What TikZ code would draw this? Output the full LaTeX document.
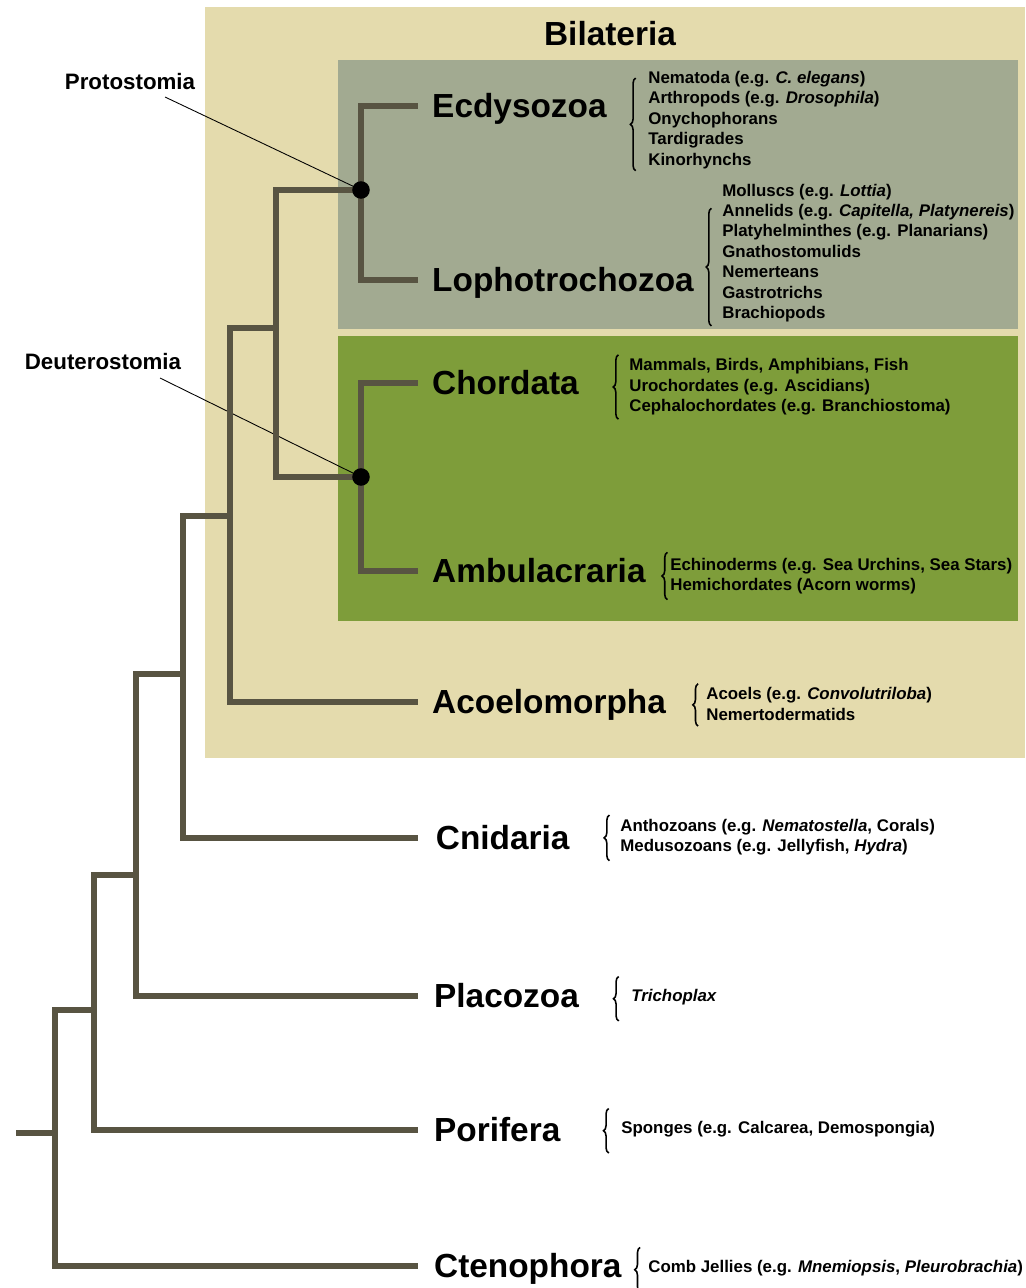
\documentclass[tikz,border=0pt]{standalone}
\usepackage{fontspec}
\setmainfont{Liberation Sans}
\usetikzlibrary{decorations.pathreplacing}
\definecolor{bilcol}{RGB}{228,219,173}
\definecolor{procol}{RGB}{162,170,145}
\definecolor{deucol}{RGB}{126,157,58}
\definecolor{treecol}{RGB}{88,84,66}
\tikzstyle{branch} = [draw=treecol, line width=3.3pt]
\tikzstyle{clade} = [font=\fontsize{19}{22}\selectfont\bfseries, anchor=west,
    inner xsep=7.9pt, inner ysep=0pt, text height=13.6pt, text depth=0pt]
\tikzstyle{taxa} = [font=\fontsize{9.6}{11.6}\selectfont\bfseries, anchor=west,
    align=left, inner sep=0pt]
\tikzstyle{groupname} = [font=\fontsize{12.7}{15}\selectfont\bfseries]
\tikzstyle{leader} = [draw=black, line width=0.5pt]
\tikzstyle{split} = [circle, fill=black, inner sep=0pt, minimum size=10pt]
\tikzstyle{curly} = [draw=black, line width=0.9pt, decorate,
    decoration={brace, amplitude=3pt}]

\begin{document}
\begin{tikzpicture}[x=0.02cm, y=-0.02cm]
                \useasboundingbox (0,0) rectangle (1025,1288);
                \fill[bilcol] (205,7) rectangle (1025,758);
                \fill[procol] (338,60) rectangle (1018,329);
                \fill[deucol] (338,336) rectangle (1018,621);
                \node[font=\fontsize{19}{22}\selectfont\bfseries] (biltitle) at (610,34) {Bilateria};

                \coordinate (stem) at (16,1133);
                \coordinate (root) at (55,1133);
                \coordinate (n1) at (94,1010);
                \coordinate (n2) at (136,875);
                \coordinate (n3) at (183,674);
                \coordinate (n4) at (230,516);
                \coordinate (bil) at (276,328);
                \coordinate (pro) at (361,190);
                \coordinate (deu) at (361,477);

                \node[clade] (ecd) at (418,106) {Ecdysozoa};
                \node[clade] (lop) at (418,280) {Lophotrochozoa};
                \node[clade] (chd) at (418,383) {Chordata};
                \node[clade] (amb) at (418,571) {Ambulacraria};
                \node[clade] (aco) at (418,702) {Acoelomorpha};
                \node[clade, inner xsep=10pt] (cni) at (418,838) {Cnidaria};
                \node[clade, inner xsep=9pt] (pla) at (418,996) {Placozoa};
                \node[clade, inner xsep=9pt] (por) at (418,1130) {Porifera};
                \node[clade, inner xsep=9pt] (cte) at (418,1266) {Ctenophora};

                \node[groupname] (protolab) at (130,82) {Protostomia};
                \node[groupname] (deutlab) at (103,362) {Deuterostomia};
                \coordinate (protoend) at (165,97);
                \coordinate (deutend) at (160,378);
                \draw[leader] (protoend) -- (pro);
                \draw[leader] (deutend) -- (deu);

                \draw[branch] (stem) -- (root);
                \draw[branch] (root) |- (n1);
                \draw[branch] (root) |- (cte.west);
                \draw[branch] (n1) |- (n2);
                \draw[branch] (n1) |- (por.west);
                \draw[branch] (n2) |- (n3);
                \draw[branch] (n2) |- (pla.west);
                \draw[branch] (n3) |- (n4);
                \draw[branch] (n3) |- (cni.west);
                \draw[branch] (n4) |- (bil);
                \draw[branch] (n4) |- (aco.west);
                \draw[branch] (bil) |- (pro);
                \draw[branch] (bil) |- (deu);
                \draw[branch] (pro) |- (ecd.west);
                \draw[branch] (pro) |- (lop.west);
                \draw[branch] (deu) |- (chd.west);
                \draw[branch] (deu) |- (amb.west);
                \node[split] (prodot) at (pro) {};
                \node[split] (deudot) at (deu) {};

                \node[taxa] (ecdlist) at (648,120) {Nematoda (e.g. \textit{C. elegans})\\
                    Arthropods (e.g. \textit{Drosophila})\\
                    Onychophorans\\
                    Tardigrades\\
                    Kinorhynchs};
                \node[taxa] (loplist) at (722,253) {Molluscs (e.g. \textit{Lottia})\\
                    Annelids (e.g. \textit{Capitella, Platynereis})\\
                    Platyhelminthes (e.g. Planarians)\\
                    Gnathostomulids\\
                    Nemerteans\\
                    Gastrotrichs\\
                    Brachiopods};
                \node[taxa] (chdlist) at (629,387) {Mammals, Birds, Amphibians, Fish\\
                    Urochordates (e.g. Ascidians)\\
                    Cephalochordates (e.g. Branchiostoma)};
                \node[taxa] (amblist) at (670,576) {Echinoderms (e.g. Sea Urchins, Sea Stars)\\
                    Hemichordates (Acorn worms)};
                \node[taxa] (acolist) at (706,704) {Acoels (e.g. \textit{Convolutriloba})\\
                    Nemertodermatids};
                \node[taxa] (cnilist) at (620,837) {Anthozoans (e.g. \textit{Nematostella}, Corals)\\
                    Medusozoans (e.g. Jellyfish, \textit{Hydra})};
                \node[taxa] (plalist) at (631,997) {\textit{Trichoplax}};
                \node[taxa] (porlist) at (621,1129) {Sponges (e.g. Calcarea, Demospongia)};
                \node[taxa] (ctelist) at (648,1268) {Comb Jellies (e.g. \textit{Mnemiopsis}, \textit{Pleurobrachia})};

                \draw[curly] ([xshift=-7pt,yshift=-1pt]ecdlist.south west) -- ([xshift=-7pt,yshift=-4pt]ecdlist.north west);
                \draw[curly] ([xshift=-6pt,yshift=-2pt]loplist.south west) -- ([xshift=-6pt,yshift=-14pt]loplist.north west);
                \draw[curly] ([xshift=-6pt,yshift=-2pt]chdlist.south west) -- ([xshift=-6pt,yshift=2pt]chdlist.north west);
                \draw[curly] ([xshift=-1.5pt,yshift=-3pt]amblist.south west) -- ([xshift=-1.5pt,yshift=3pt]amblist.north west);
                \draw[curly] ([xshift=-4.5pt,yshift=-3pt]acolist.south west) -- ([xshift=-4.5pt,yshift=2pt]acolist.north west);
                \draw[curly] ([xshift=-6pt,yshift=-3pt]cnilist.south west) -- ([xshift=-6pt,yshift=2pt]cnilist.north west);
                \draw[curly] ([xshift=-7pt,yshift=-9pt]plalist.south west) -- ([xshift=-7pt,yshift=7pt]plalist.north west);
                \draw[curly] ([xshift=-7pt,yshift=-9pt]porlist.south west) -- ([xshift=-7pt,yshift=7pt]porlist.north west);
                \draw[curly] ([xshift=-4.5pt,yshift=-9pt]ctelist.south west) -- ([xshift=-4.5pt,yshift=7pt]ctelist.north west);
            \end{tikzpicture}
\end{document}
